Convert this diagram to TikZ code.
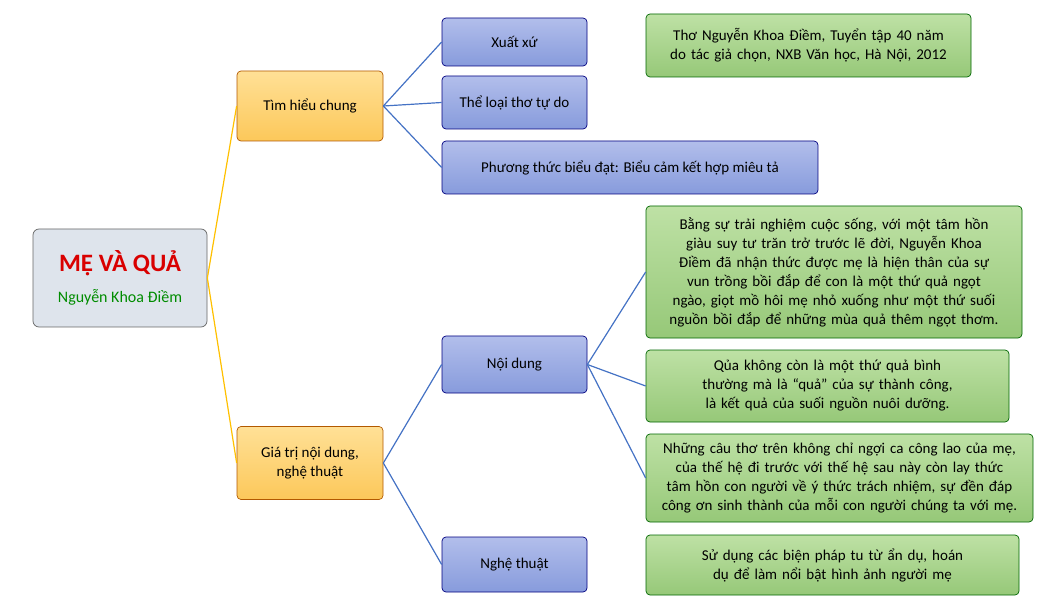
\documentclass[tikz,border=0pt]{standalone}
\usepackage{fontspec}
\setmainfont{Carlito}
\definecolor{lb}{HTML}{4472C4}
\definecolor{ln}{HTML}{FFC000}
\begin{document}
\begin{tikzpicture}[x=1pt,y=-1pt,
 base/.style={draw=#1,rounded corners=4pt,align=center,inner sep=3pt,font=\fontsize{15}{19}\selectfont,line width=0.7pt},
 org/.style={base=orange!70!black,top color={rgb,255:red,255;green,224;blue,150},bottom color={rgb,255:red,252;green,200;blue,90}},
 blu/.style={base=blue!50!black,top color={rgb,255:red,178;green,190;blue,235},bottom color={rgb,255:red,135;green,155;blue,220}},
 grn/.style={base=green!40!black,top color={rgb,255:red,190;green,225;blue,165},bottom color={rgb,255:red,150;green,200;blue,120}},
 yl/.style={draw=ln,line width=1.2pt},
 bl/.style={draw=lb,line width=1.2pt}]
\useasboundingbox (0,0) rectangle (1038,601);
\node[draw=gray!80!black,rounded corners=6pt,fill={rgb,255:red,222;green,228;blue,236},minimum width=174pt,minimum height=98pt,align=center,line width=0.7pt] (root) at (120,278)
 {{\fontsize{25}{28}\selectfont\bfseries\color{red!85!black}MẸ VÀ QUẢ}\\[12pt]{\fontsize{16}{18}\selectfont\color{green!55!black}Nguyễn Khoa Điềm}};
\node[org,minimum width=146pt,minimum height=70pt] (a) at (310,106) {Tìm hiểu chung};
\node[org,minimum width=146pt,minimum height=73pt] (b) at (310,463) {Giá trị nội dung,\\nghệ thuật};
\node[blu,minimum width=145pt,minimum height=48pt] (a1) at (514.5,42) {Xuất xứ};
\node[blu,minimum width=145pt,minimum height=53pt] (a2) at (514.5,102.5) {Thể loại thơ tự do};
\node[blu,minimum width=376pt,minimum height=53pt] (a3) at (630,167.5) {Phương thức biểu đạt: Biểu cảm kết hợp miêu tả};
\node[blu,minimum width=145pt,minimum height=57pt] (b1) at (514.5,364.5) {Nội dung};
\node[blu,minimum width=145pt,minimum height=55pt] (b2) at (514.5,564.5) {Nghệ thuật};
\node[grn,minimum width=325pt,minimum height=63pt,text width=315pt] (g1) at (808.5,45.5) {Thơ Nguyễn Khoa Điềm, Tuyển tập 40 năm do tác giả chọn, NXB Văn học, Hà Nội, 2012};
\node[grn,minimum width=376pt,minimum height=132pt,text width=368pt] (g2) at (834,272) {Bằng sự trải nghiệm cuộc sống, với một tâm hồn giàu suy tư trăn trở trước lẽ đời, Nguyễn Khoa Điềm đã nhận thức được mẹ là hiện thân của sự vun trồng bồi đắp để con là một thứ quả ngọt ngào, giọt mồ hôi mẹ nhỏ xuống như một thứ suối nguồn bồi đắp để những mùa quả thêm ngọt thơm.};
\node[grn,minimum width=363pt,minimum height=72pt,text width=355pt] (g3) at (827.5,386) {Qủa không còn là một thứ quả bình thường mà là “quả” của sự thành công, là kết quả của suối nguồn nuôi dưỡng.};
\node[grn,minimum width=387pt,minimum height=88pt,text width=379pt] (g4) at (839.5,478) {Những câu thơ trên không chỉ ngợi ca công lao của mẹ, của thế hệ đi trước với thế hệ sau này còn lay thức tâm hồn con người về ý thức trách nhiệm, sự đền đáp công ơn sinh thành của mỗi con người chúng ta với mẹ.};
\node[grn,minimum width=373pt,minimum height=60pt,text width=365pt] (g5) at (832.5,565) {Sử dụng các biện pháp tu từ ẩn dụ, hoán dụ để làm nổi bật hình ảnh người mẹ};
\draw[yl] (root.east) -- (a.west);
\draw[yl] (root.east) -- (b.west);
\foreach \t in {a1,a2,a3} \draw[bl] (a.east) -- (\t.west);
\foreach \t in {b1,b2} \draw[bl] (b.east) -- (\t.west);
\foreach \t in {g2,g3,g4} \draw[bl] (b1.east) -- (\t.west);
\end{tikzpicture}
\end{document}
